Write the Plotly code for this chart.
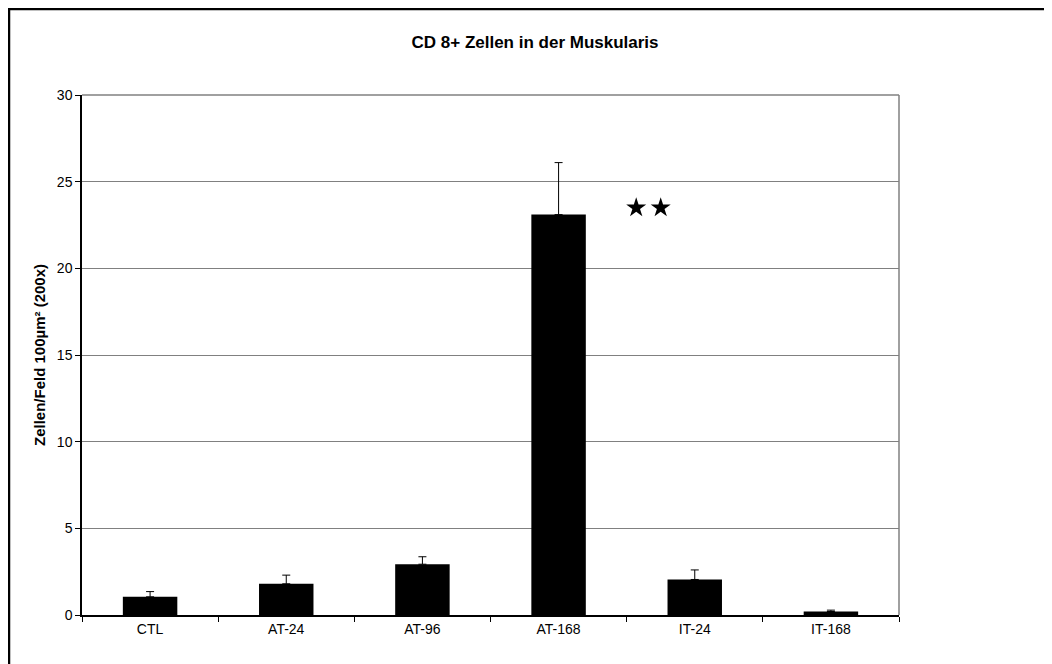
import plotly.graph_objects as go

categories = ["CTL", "AT-24", "AT-96", "AT-168", "IT-24", "IT-168"]
means = [1.05, 1.8, 2.93, 23.1, 2.05, 0.2]
errors = [0.3, 0.5, 0.43, 3.0, 0.55, 0.08]
y_ticks = [0, 5, 10, 15, 20, 25, 30]
star_x = [3.57, 3.75]
star_y = [23.5, 23.5]

FONT = "Liberation Sans, Arial, sans-serif"
W, H = 1044, 656
L, R, T, B = 74, 153, 87, 48.5
PW, PH = W - L - R, H - T - B

fig = go.Figure()
fig.add_trace(go.Bar(
    x=categories, y=means, width=0.4,
    marker=dict(color="black", line=dict(color="black", width=0)),
    error_y=dict(type="data", array=errors, symmetric=False, arrayminus=[0] * len(errors),
                 color="black", thickness=1, width=4),
    showlegend=False,
))
fig.add_trace(go.Scatter(
    x=star_x, y=star_y, mode="markers",
    marker=dict(symbol="star", size=15, color="black"),
    showlegend=False, hoverinfo="skip", xaxis="x2",
))

fig.update_layout(
    width=W, height=H,
    margin=dict(l=L, r=R, t=T, b=B),
    paper_bgcolor="white", plot_bgcolor="white",
    font=dict(family=FONT, size=14, color="black"),
    title=dict(text="<b>CD 8+ Zellen in der Muskularis</b>", x=403.5 / W,
               xanchor="left", y=1 - 34 / H, yanchor="middle",
               font=dict(size=17, family=FONT)),
    xaxis=dict(type="category", range=[-0.5, 5.5], showline=True, linecolor="black",
               linewidth=1.5, ticks="outside", tickson="boundaries", ticklen=5,
               tickcolor="black", showgrid=False, zeroline=False,
               tickfont=dict(size=14)),
    xaxis2=dict(overlaying="x", range=[-0.5, 5.5], visible=False),
    yaxis=dict(range=[0, 30], tickvals=y_ticks, showline=True, linecolor="black",
               linewidth=1.5, ticks="outside", ticklen=5, tickcolor="black",
               showgrid=True, gridcolor="#808080", gridwidth=1, zeroline=False,
               tickfont=dict(size=14),
               title=dict(text="<b>Zellen/Feld 100µm² (200x)</b>", font=dict(size=15), standoff=8)),
    shapes=[
        dict(type="line", xref="paper", yref="paper", x0=1, x1=1, y0=0, y1=1,
             line=dict(color="#808080", width=1.5)),
        dict(type="line", xref="paper", yref="paper", x0=0, x1=1, y0=1, y1=1,
             line=dict(color="#808080", width=1.5)),
        dict(type="rect", xref="paper", yref="paper",
             x0=(1 - L) / PW, x1=1.5, y0=-0.5, y1=(H - B - 1) / PH,
             line=dict(color="black", width=2.5)),
    ],
)

fig.write_html("out.html")
